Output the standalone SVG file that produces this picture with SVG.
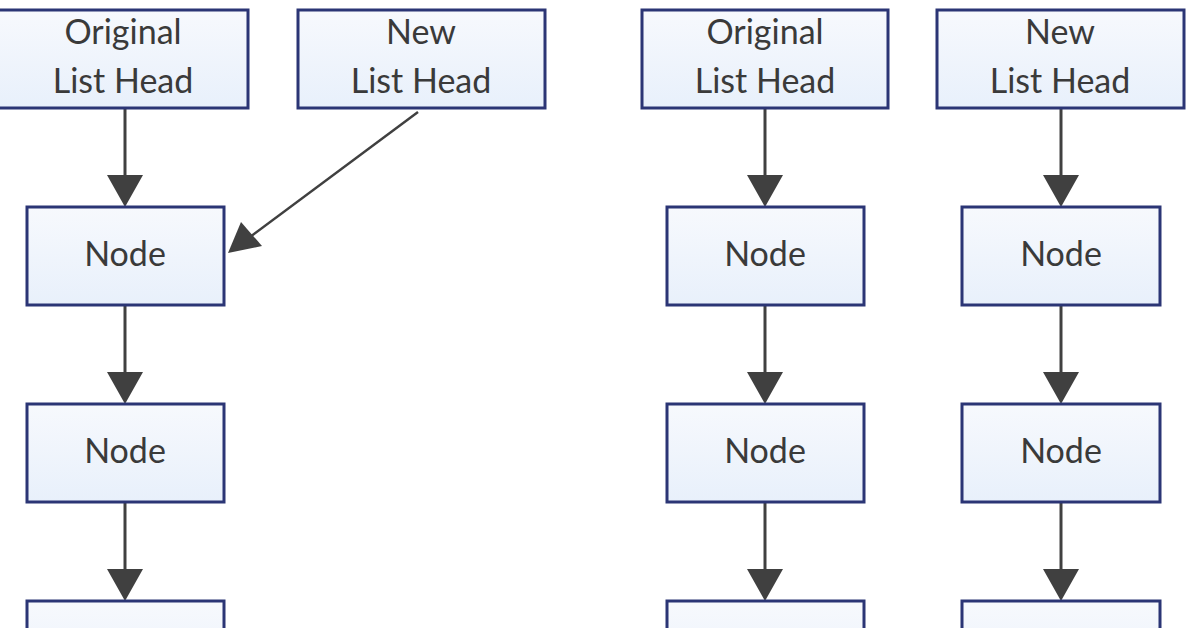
<svg xmlns="http://www.w3.org/2000/svg" width="1195" height="628" viewBox="0 0 1195 628">
<style>
.b{fill:url(#g);stroke:#2b3575;stroke-width:3}
.t{font-family:Lato,"Open Sans",sans-serif;font-size:34px;fill:#3a3a3a;text-anchor:middle}
.c{stroke:#404040;stroke-width:3;fill:none}
.h{fill:#404040}
</style>
<defs>
<linearGradient id="g" x1="0" y1="0" x2="0" y2="1"><stop offset="0" stop-color="#f7f9fd"/><stop offset="1" stop-color="#e8f0fb"/></linearGradient>
</defs>
<rect width="1195" height="628" fill="#fff"/>
<g id="connectors">
<path class="c" d="M125,108 V180"/><path class="h" d="M107,175 L143,175 L125,207 Z"/>
<path class="c" d="M125,305 V377"/><path class="h" d="M107,372 L143,372 L125,404 Z"/>
<path class="c" d="M125,502 V574"/><path class="h" d="M107,569 L143,569 L125,601 Z"/>
<path d="M418,112 L250,237" stroke="#404040" stroke-width="2.5"/><path class="h" d="M228,253 L241,222 L262,246 Z"/>
<path class="c" d="M765,108 V180"/><path class="h" d="M747,175 L783,175 L765,207 Z"/>
<path class="c" d="M765,305 V377"/><path class="h" d="M747,372 L783,372 L765,404 Z"/>
<path class="c" d="M765,502 V574"/><path class="h" d="M747,569 L783,569 L765,601 Z"/>
<path class="c" d="M1061,108 V180"/><path class="h" d="M1043,175 L1079,175 L1061,207 Z"/>
<path class="c" d="M1061,305 V377"/><path class="h" d="M1043,372 L1079,372 L1061,404 Z"/>
<path class="c" d="M1061,502 V574"/><path class="h" d="M1043,569 L1079,569 L1061,601 Z"/>
</g>
<g id="h1"><rect class="b" x="-2" y="10" width="250" height="98"/><text class="t" x="123" y="44">Original</text><text class="t" x="123" y="93">List Head</text></g>
<g id="h2"><rect class="b" x="298" y="10" width="247" height="98"/><text class="t" x="421" y="44">New</text><text class="t" x="421" y="93">List Head</text></g>
<g id="n1"><rect class="b" x="27" y="207" width="197" height="98"/><text class="t" x="125" y="266">Node</text></g>
<g id="n2"><rect class="b" x="27" y="404" width="197" height="98"/><text class="t" x="125" y="463">Node</text></g>
<g id="n3"><rect class="b" x="27" y="601" width="197" height="98"/></g>
<g id="h3"><rect class="b" x="642" y="10" width="246" height="98"/><text class="t" x="765" y="44">Original</text><text class="t" x="765" y="93">List Head</text></g>
<g id="h4"><rect class="b" x="937" y="10" width="247" height="98"/><text class="t" x="1060" y="44">New</text><text class="t" x="1060" y="93">List Head</text></g>
<g id="n4"><rect class="b" x="667" y="207" width="197" height="98"/><text class="t" x="765" y="266">Node</text></g>
<g id="n5"><rect class="b" x="667" y="404" width="197" height="98"/><text class="t" x="765" y="463">Node</text></g>
<g id="n6"><rect class="b" x="667" y="601" width="197" height="98"/></g>
<g id="n7"><rect class="b" x="962" y="207" width="198" height="98"/><text class="t" x="1061" y="266">Node</text></g>
<g id="n8"><rect class="b" x="962" y="404" width="198" height="98"/><text class="t" x="1061" y="463">Node</text></g>
<g id="n9"><rect class="b" x="962" y="601" width="198" height="98"/></g>
</svg>
